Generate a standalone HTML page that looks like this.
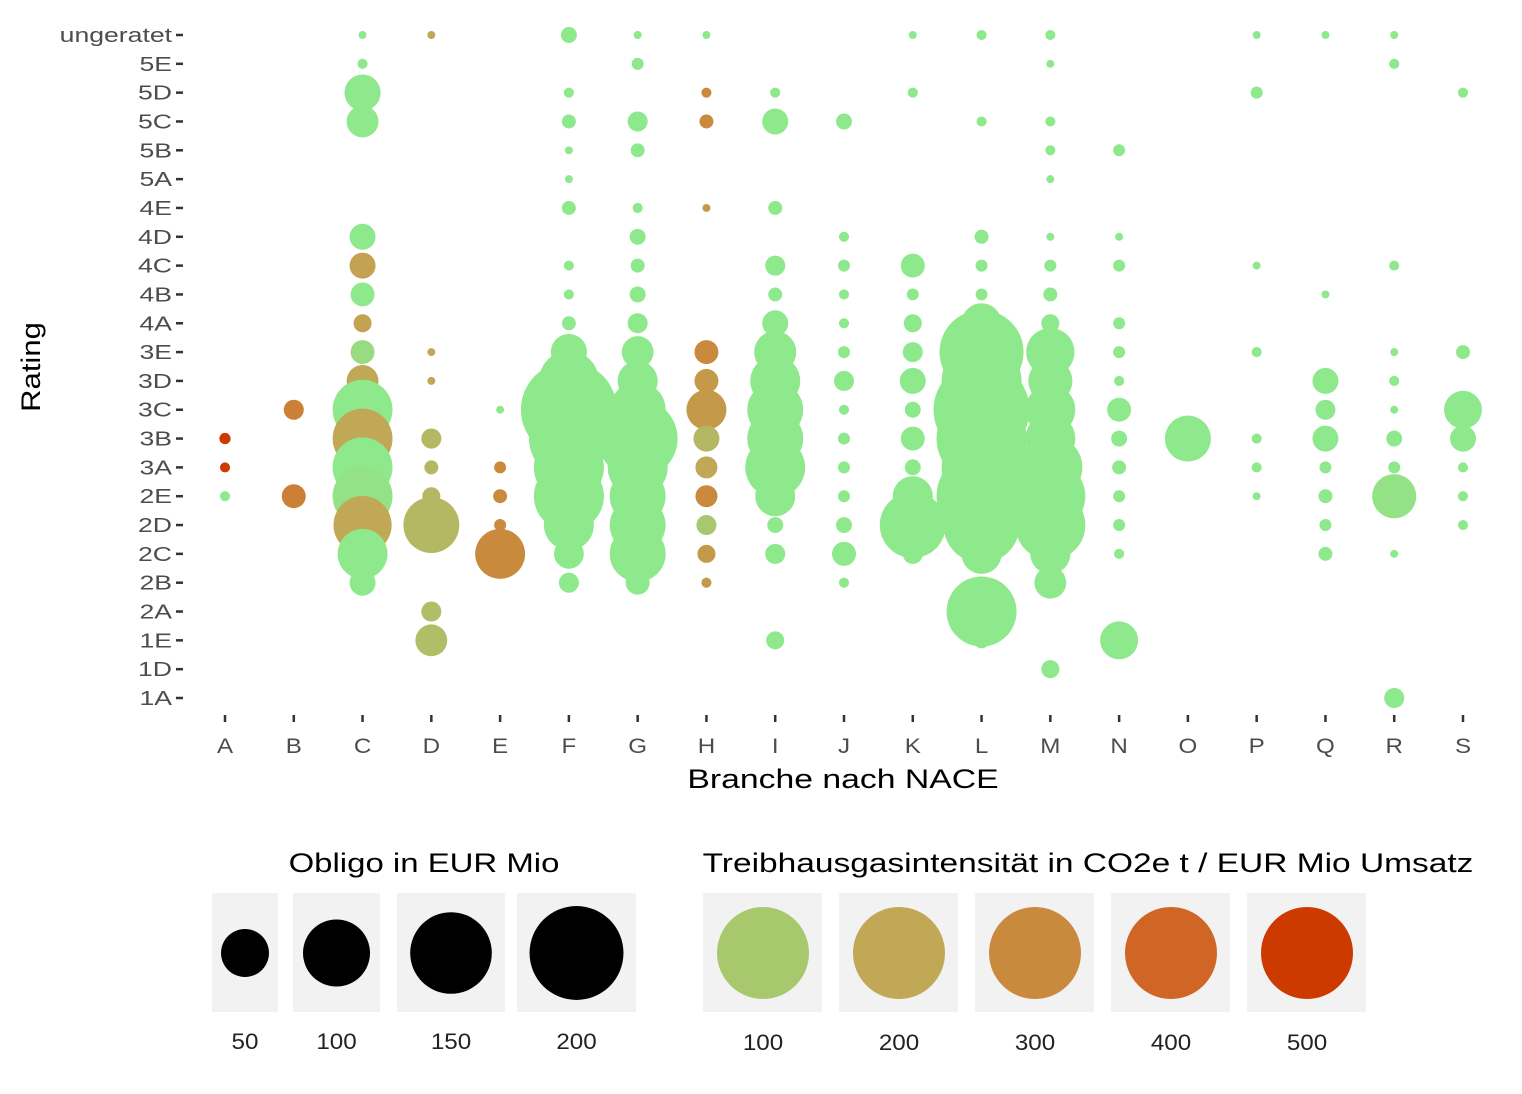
<!DOCTYPE html>
<html><head><meta charset="utf-8"><style>
body{margin:0;background:#fff;}
svg text{font-family:"Liberation Sans",sans-serif;}
</style></head><body>
<svg id="chart" width="1522" height="1089" xmlns="http://www.w3.org/2000/svg">
<g id="plot"></g>
<g id="axes"></g>
<g transform="translate(40,367) rotate(-90) scale(1.15,1)"><text x="0" y="0" text-anchor="middle" font-size="27" fill="#000">Rating</text></g>
<g transform="translate(843,788) scale(1.25,1)"><text x="0" y="0" text-anchor="middle" font-size="27" fill="#000">Branche nach NACE</text></g>
<g id="legend"></g>
</svg>
<script>
const categories = ["A","B","C","D","E","F","G","H","I","J","K","L","M","N","O","P","Q","R","S"];
const ratings = ["ungeratet","5E","5D","5C","5B","5A","4E","4D","4C","4B","4A","3E","3D","3C","3B","3A","2E","2D","2C","2B","2A","1E","1D","1A"];
const sizeLegendValues = [50,100,150,200];
const colorLegendValues = [100,200,300,400,500];
// [category, rating, obligo (EUR Mio), GHG intensity]
const points = [
["A","3B",3,500],["A","3A",2.4,500],["A","2E",2.4,0],
["B","3C",9.5,330],["B","2E",13.6,330],
["C","ungeratet",1.5,0],["C","5E",2.4,0],["C","5D",31,0],["C","5C",24,0],["C","4D",16,0],["C","4C",16,220],["C","4B",13.6,0],["C","4A",7.7,220],["C","3E",13.6,40],["C","3D",24,200],["C","3C",85,0],["C","3B",85,200],["C","3A",85,0],["C","2E",85,20],["C","2D",80,200],["C","2C",59,0],["C","2B",16,0],
["D","ungeratet",1.5,200],["D","3E",1.5,200],["D","3D",1.5,200],["D","3B",9.5,150],["D","3A",4.6,150],["D","2E",7.7,150],["D","2D",74,150],["D","2A",9.5,130],["D","1E",24,130],
["E","3C",1.5,0],["E","3A",3.4,300],["E","2E",4.6,300],["E","2D",3.4,300],["E","2C",59,300],
["F","ungeratet",6,0],["F","5D",2.4,0],["F","5C",4.6,0],["F","5B",1.5,0],["F","5A",1.5,0],["F","4E",4.6,0],["F","4C",2.4,0],["F","4B",2.4,0],["F","4A",4.6,0],["F","3E",31,0],["F","3D",85,0],["F","3C",218,0],["F","3B",151,0],["F","3A",116,0],["F","2E",116,0],["F","2D",59,0],["F","2C",21,0],["F","2B",9.5,0],
["G","ungeratet",1.5,0],["G","5E",3.4,0],["G","5C",9.5,0],["G","5B",4.6,0],["G","4E",2.4,0],["G","4D",6,0],["G","4C",4.6,0],["G","4B",6,0],["G","4A",9.5,0],["G","3E",24,0],["G","3D",38,0],["G","3C",74,0],["G","3B",151,0],["G","3A",85,0],["G","2E",74,0],["G","2D",74,0],["G","2C",74,0],["G","2B",13.6,0],
["H","ungeratet",1.5,0],["H","5D",2.4,300],["H","5C",4.6,300],["H","4E",1.5,250],["H","3E",13.6,300],["H","3D",13.6,250],["H","3C",38,250],["H","3B",16,150],["H","3A",11.5,200],["H","2E",11.5,300],["H","2D",9.5,100],["H","2C",7.7,250],["H","2B",2.4,250],
["I","5D",2.4,0],["I","5C",16,0],["I","4E",4.6,0],["I","4C",9.5,0],["I","4B",4.6,0],["I","4A",16,0],["I","3E",42,0],["I","3D",59,0],["I","3C",74,0],["I","3B",74,0],["I","3A",85,0],["I","2E",38,0],["I","2D",6,0],["I","2C",9.5,0],["I","1E",7.7,0],
["J","5C",6,0],["J","4D",2.4,0],["J","4C",3.4,0],["J","4B",2.4,0],["J","4A",2.4,0],["J","3E",3.4,0],["J","3D",9.5,0],["J","3C",2.4,0],["J","3B",3.4,0],["J","3A",3.4,0],["J","2E",3.4,0],["J","2D",6,0],["J","2C",13.6,0],["J","2B",2.4,0],
["K","ungeratet",1.5,0],["K","5D",2.4,0],["K","4C",13.6,0],["K","4B",3.4,0],["K","4A",7.7,0],["K","3E",9.5,0],["K","3D",16,0],["K","3C",6,0],["K","3B",13.6,0],["K","3A",6,0],["K","2E",38,0],["K","2D",103,0],["K","2C",9.5,0],
["L","ungeratet",2.4,0],["L","5C",2.4,0],["L","4D",4.6,0],["L","4C",3.4,0],["L","4B",3.4,0],["L","4A",38,0],["L","3E",167,0],["L","3D",151,0],["L","3C",218,0],["L","3B",192,0],["L","3A",151,0],["L","2E",192,0],["L","2D",137,0],["L","2C",38,0],["L","2A",116,0],["L","1E",6,0],
["M","ungeratet",2.4,0],["M","5E",1.5,0],["M","5C",2.4,0],["M","5B",2.4,0],["M","5A",1.5,0],["M","4D",1.5,0],["M","4C",3.4,0],["M","4B",4.6,0],["M","4A",7.7,0],["M","3E",55,0],["M","3D",46,0],["M","3C",59,0],["M","3B",59,0],["M","3A",97,0],["M","2E",116,0],["M","2D",116,0],["M","2C",38,0],["M","2B",24,0],["M","1D",7.7,0],
["N","5B",3.4,0],["N","4D",1.5,0],["N","4C",3.4,0],["N","4A",3.4,0],["N","3E",3.4,0],["N","3D",2.4,0],["N","3C",13.6,0],["N","3B",6,0],["N","3A",4.6,0],["N","2E",3.4,0],["N","2D",3.4,0],["N","2C",2.4,0],["N","1E",34,0],
["O","3B",50,0],
["P","ungeratet",1.5,0],["P","5D",3.4,0],["P","4C",1.5,0],["P","3E",2.4,0],["P","3B",2.4,0],["P","3A",2.4,0],["P","2E",1.5,0],
["Q","ungeratet",1.5,0],["Q","4B",1.5,0],["Q","3D",16,0],["Q","3C",9.5,0],["Q","3B",16,0],["Q","3A",3.4,0],["Q","2E",4.6,0],["Q","2D",3.4,0],["Q","2C",4.6,0],
["R","ungeratet",1.5,0],["R","5E",2.4,0],["R","4C",2.4,0],["R","3E",1.5,0],["R","3D",2.4,0],["R","3C",1.5,0],["R","3B",6,0],["R","3A",3.4,0],["R","2E",46,20],["R","2C",1.5,0],["R","1A",9.5,0],
["S","5D",2.4,0],["S","3E",4.6,0],["S","3C",34,0],["S","3B",16,0],["S","3A",2.4,0],["S","2E",2.4,0],["S","2D",2.4,0]
];

const NS="http://www.w3.org/2000/svg";
function mk(tag,attrs,parent){const e=document.createElementNS(NS,tag);for(const k in attrs)e.setAttribute(k,attrs[k]);parent.appendChild(e);return e;}
const x0=225,x1=1463,y0=35,y1=698;
function xScale(c){return x0+categories.indexOf(c)*(x1-x0)/(categories.length-1);}
function yScale(r){return y0+ratings.indexOf(r)*(y1-y0)/(ratings.length-1);}
function rScale(v){return 3.25*Math.sqrt(v);}
const stops=[[0,[142,232,140]],[100,[168,200,110]],[200,[193,168,86]],[300,[201,138,62]],[400,[208,102,38]],[500,[204,58,0]]];
function colorScale(v){for(let i=0;i<stops.length-1;i++){const a=stops[i],b=stops[i+1];if(v<=b[0]){const t=(v-a[0])/(b[0]-a[0]);const c=a[1].map((x,j)=>Math.round(x+(b[1][j]-x)*t));return `rgb(${c})`;}}return `rgb(${stops[stops.length-1][1]})`;}
function stext(parent,x,y,sx,attrs,str){const g=mk('g',{transform:`translate(${x},${y}) scale(${sx},1)`},parent);const t=mk('text',Object.assign({x:0,y:0},attrs),g);t.textContent=str;return t;}

const plot=document.getElementById('plot'),axes=document.getElementById('axes'),legend=document.getElementById('legend');
points.forEach(p=>{
  const c=mk('circle',{cx:xScale(p[0]),cy:yScale(p[1]),r:rScale(p[2]),fill:colorScale(p[3])},plot);
  
  
});
ratings.forEach(r=>{
  const y=yScale(r);
  const t=stext(axes,172,y+7,1.33,{'text-anchor':'end','font-size':20,fill:'#4d4d4d'},r);
  
  
  const l=mk('line',{x1:176,x2:183,y1:y,y2:y,stroke:'#333','stroke-width':2.5},axes);
  
  
});
categories.forEach(c=>{
  const x=xScale(c);
  const l=mk('line',{x1:x,x2:x,y1:715,y2:722,stroke:'#333','stroke-width':2.5},axes);
  
  
  const t=stext(axes,x,753,1.15,{'text-anchor':'middle','font-size':21,fill:'#4d4d4d'},c);
  
  
});
let t=stext(legend,424,872,1.22,{'text-anchor':'middle','font-size':27,fill:'#000'},'Obligo in EUR Mio');


const sizeBoxes=[[212,278],[293,380],[397,505],[517,636]];
sizeLegendValues.forEach((v,i)=>{
  const b=sizeBoxes[i];const cx=(b[0]+b[1])/2;
  const r=mk('rect',{x:b[0],y:893,width:b[1]-b[0],height:119,fill:'#f2f2f2'},legend);
  
  
  const c=mk('circle',{cx:cx,cy:953,r:rScale(v)+1,fill:'#000'},legend);
  
  
  const tt=stext(legend,cx,1049,1.1,{'text-anchor':'middle','font-size':22,fill:'#222'},String(v));
  
  
});
t=stext(legend,1088,872,1.24,{'text-anchor':'middle','font-size':27,fill:'#000'},'Treibhausgasintensität in CO2e t / EUR Mio Umsatz');


colorLegendValues.forEach((v,i)=>{
  const bx=703+i*136;const cx=bx+60;
  const r=mk('rect',{x:bx,y:893,width:119,height:119,fill:'#f2f2f2'},legend);
  
  
  const c=mk('circle',{cx:cx,cy:953,r:46,fill:colorScale(v)},legend);
  
  
  const tt=stext(legend,cx,1050,1.1,{'text-anchor':'middle','font-size':22,fill:'#222'},String(v));
  
  
});
</script>
</body></html>
